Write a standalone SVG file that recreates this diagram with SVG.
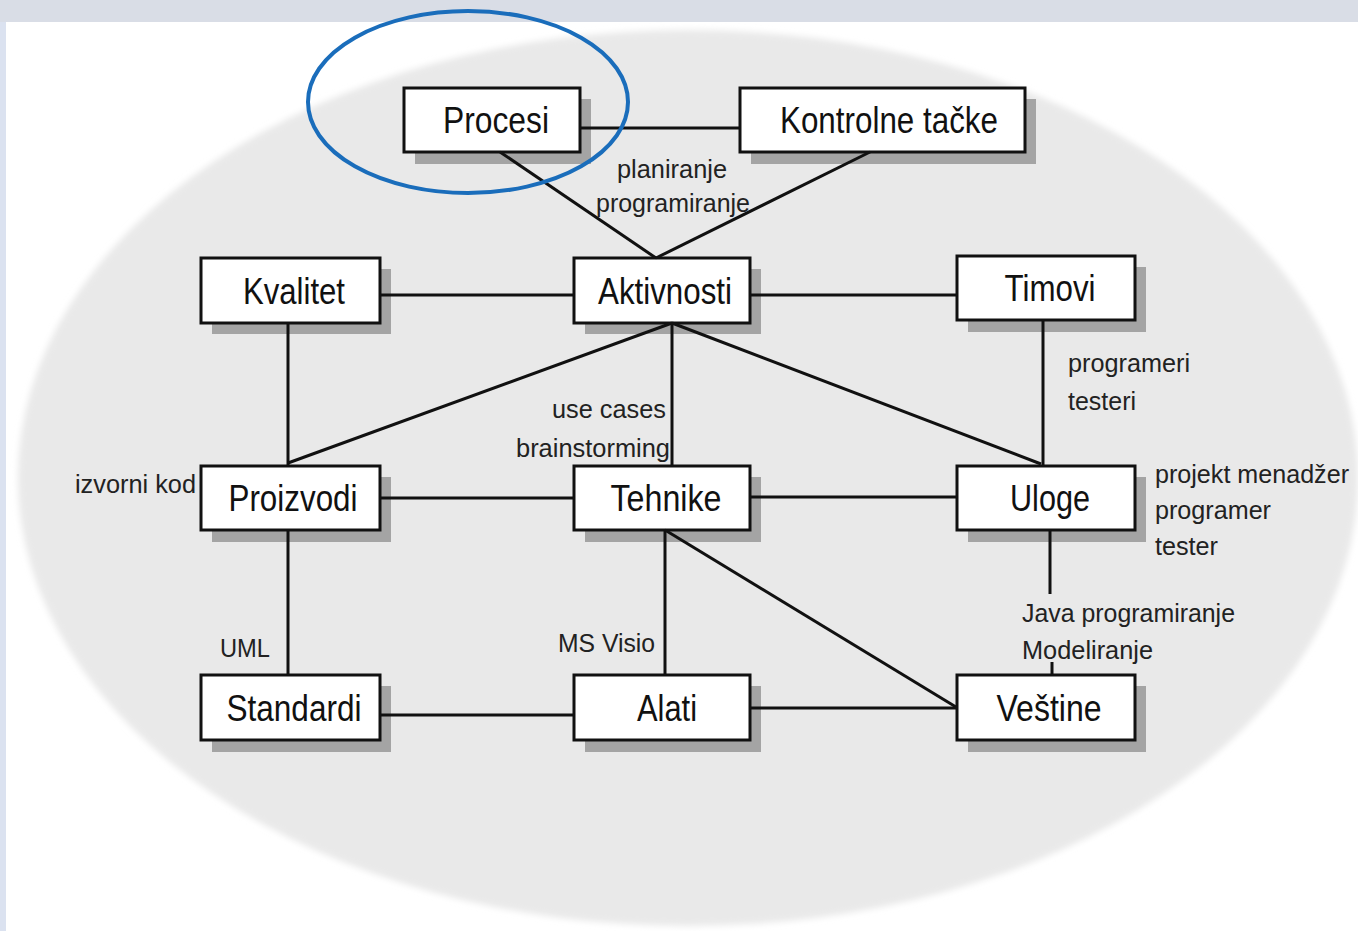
<svg xmlns="http://www.w3.org/2000/svg" width="1358" height="931" viewBox="0 0 1358 931">
  <style>
    .box { fill: #ffffff; stroke: #111111; stroke-width: 3; }
    .shadow { fill: #a4a4a4; }
    .lbl { font-family: "Liberation Sans Narrow", "Liberation Sans", Arial, sans-serif; font-size: 37px; fill: #111111; text-anchor: middle; }
    .note { font-family: "Liberation Sans Narrow", "Liberation Sans", Arial, sans-serif; font-size: 26px; fill: #222222; }
    .conn line { stroke: #111111; stroke-width: 3; stroke-linecap: butt; }
  </style>
  <defs>
    <filter id="soft" x="-5%" y="-5%" width="110%" height="110%">
      <feGaussianBlur stdDeviation="3"/>
    </filter>
  </defs>

  <!-- page background -->
  <rect x="0" y="0" width="1358" height="931" fill="#ffffff"/>
  <ellipse cx="688" cy="478" rx="670" ry="448" fill="#e9e9e9" filter="url(#soft)"/>
  <rect x="0" y="0" width="1358" height="22" fill="#d9dde6"/>
  <rect x="0" y="22" width="6" height="909" fill="#dbe2f0"/>

  <!-- nodes -->
  <g id="node-procesi">
    <rect class="shadow" x="415" y="99" width="176" height="65"/>
    <rect class="box" x="404" y="88" width="176" height="64"/>
    <text class="lbl" x="496" y="133" textLength="106" lengthAdjust="spacingAndGlyphs">Procesi</text>
  </g>
  <g id="node-kontrolne-tacke">
    <rect class="shadow" x="751" y="99" width="285" height="65"/>
    <rect class="box" x="740" y="88" width="285" height="64"/>
    <text class="lbl" x="889" y="133" textLength="218" lengthAdjust="spacingAndGlyphs">Kontrolne tačke</text>
  </g>
  <g id="node-kvalitet">
    <rect class="shadow" x="212" y="269" width="179" height="65"/>
    <rect class="box" x="201" y="258" width="179" height="65"/>
    <text class="lbl" x="294" y="304" textLength="102" lengthAdjust="spacingAndGlyphs">Kvalitet</text>
  </g>
  <g id="node-aktivnosti">
    <rect class="shadow" x="585" y="269" width="176" height="65"/>
    <rect class="box" x="574" y="258" width="176" height="65"/>
    <text class="lbl" x="665" y="304" textLength="134" lengthAdjust="spacingAndGlyphs">Aktivnosti</text>
  </g>
  <g id="node-timovi">
    <rect class="shadow" x="968" y="267" width="178" height="65"/>
    <rect class="box" x="957" y="256" width="178" height="64"/>
    <text class="lbl" x="1050" y="301" textLength="91" lengthAdjust="spacingAndGlyphs">Timovi</text>
  </g>
  <g id="node-proizvodi">
    <rect class="shadow" x="212" y="477" width="179" height="65"/>
    <rect class="box" x="201" y="466" width="179" height="64"/>
    <text class="lbl" x="293" y="511" textLength="129" lengthAdjust="spacingAndGlyphs">Proizvodi</text>
  </g>
  <g id="node-tehnike">
    <rect class="shadow" x="585" y="477" width="176" height="65"/>
    <rect class="box" x="574" y="466" width="176" height="64"/>
    <text class="lbl" x="666" y="511" textLength="111" lengthAdjust="spacingAndGlyphs">Tehnike</text>
  </g>
  <g id="node-uloge">
    <rect class="shadow" x="968" y="477" width="178" height="65"/>
    <rect class="box" x="957" y="466" width="178" height="64"/>
    <text class="lbl" x="1050" y="511" textLength="80" lengthAdjust="spacingAndGlyphs">Uloge</text>
  </g>
  <g id="node-standardi">
    <rect class="shadow" x="212" y="686" width="179" height="66"/>
    <rect class="box" x="201" y="675" width="179" height="65"/>
    <text class="lbl" x="294" y="721" textLength="135" lengthAdjust="spacingAndGlyphs">Standardi</text>
  </g>
  <g id="node-alati">
    <rect class="shadow" x="585" y="686" width="176" height="66"/>
    <rect class="box" x="574" y="675" width="176" height="65"/>
    <text class="lbl" x="667" y="721" textLength="60" lengthAdjust="spacingAndGlyphs">Alati</text>
  </g>
  <g id="node-vestine">
    <rect class="shadow" x="968" y="686" width="178" height="66"/>
    <rect class="box" x="957" y="675" width="178" height="65"/>
    <text class="lbl" x="1049" y="721" textLength="105" lengthAdjust="spacingAndGlyphs">Veštine</text>
  </g>

  <!-- connectors, drawn over the drop shadows -->
  <g id="connectors" class="conn">
    <line x1="580" y1="128" x2="740" y2="128"/>
    <line x1="500" y1="152" x2="656" y2="258"/>
    <line x1="870" y1="152" x2="656" y2="258"/>
    <line x1="380" y1="295" x2="574" y2="295"/>
    <line x1="750" y1="295" x2="957" y2="295"/>
    <line x1="288" y1="323" x2="288" y2="466"/>
    <line x1="672" y1="323" x2="288" y2="463"/>
    <line x1="672" y1="323" x2="672" y2="466"/>
    <line x1="672" y1="323" x2="1041" y2="464"/>
    <line x1="1043" y1="320" x2="1043" y2="466"/>
    <line x1="380" y1="498" x2="574" y2="498"/>
    <line x1="750" y1="497" x2="957" y2="497"/>
    <line x1="1050" y1="530" x2="1050" y2="594"/>
    <line x1="1052" y1="662" x2="1052" y2="675"/>
    <line x1="288" y1="530" x2="288" y2="675"/>
    <line x1="665" y1="530" x2="665" y2="675"/>
    <line x1="665" y1="530" x2="956" y2="707"/>
    <line x1="380" y1="715" x2="574" y2="715"/>
    <line x1="750" y1="708" x2="957" y2="708"/>
  </g>

  <!-- relation notes -->
  <g id="notes">
    <text class="note" x="617" y="178" textLength="110" lengthAdjust="spacingAndGlyphs">planiranje</text>
    <text class="note" x="596" y="212" textLength="154" lengthAdjust="spacingAndGlyphs">programiranje</text>
    <text class="note" x="552" y="418" textLength="114" lengthAdjust="spacingAndGlyphs">use cases</text>
    <text class="note" x="516" y="457" textLength="154" lengthAdjust="spacingAndGlyphs">brainstorming</text>
    <text class="note" x="75" y="493" textLength="121" lengthAdjust="spacingAndGlyphs">izvorni kod</text>
    <text class="note" x="1068" y="372" textLength="122" lengthAdjust="spacingAndGlyphs">programeri</text>
    <text class="note" x="1068" y="410" textLength="68" lengthAdjust="spacingAndGlyphs">testeri</text>
    <text class="note" x="1155" y="483" textLength="194" lengthAdjust="spacingAndGlyphs">projekt menadžer</text>
    <text class="note" x="1155" y="519" textLength="116" lengthAdjust="spacingAndGlyphs">programer</text>
    <text class="note" x="1155" y="555" textLength="63" lengthAdjust="spacingAndGlyphs">tester</text>
    <text class="note" x="1022" y="622" textLength="213" lengthAdjust="spacingAndGlyphs">Java programiranje</text>
    <text class="note" x="1022" y="659" textLength="131" lengthAdjust="spacingAndGlyphs">Modeliranje</text>
    <text class="note" x="220" y="657" textLength="50" lengthAdjust="spacingAndGlyphs">UML</text>
    <text class="note" x="558" y="652" textLength="97" lengthAdjust="spacingAndGlyphs">MS Visio</text>
  </g>

  <!-- highlight ring -->
  <ellipse id="highlight" cx="468" cy="102" rx="160" ry="91" fill="none" stroke="#1a6dbb" stroke-width="4"/>
</svg>
